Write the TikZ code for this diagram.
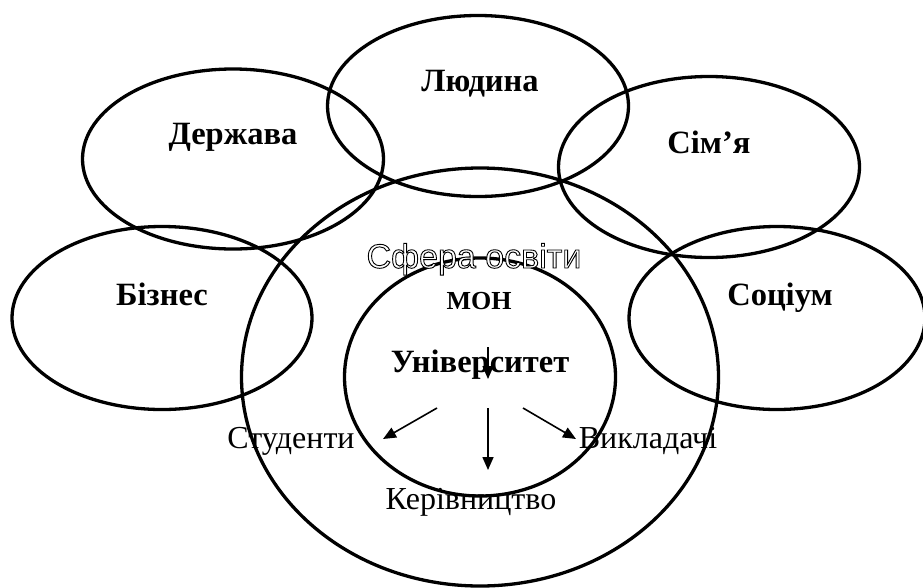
\documentclass[tikz,border=0pt]{standalone}
\usepackage{fontspec}
\setmainfont{Liberation Serif}
\newfontfamily\outlinesans{Liberation Sans}
\usetikzlibrary{shapes.geometric,arrows.meta}
\newcommand\outlinedtxt[1]{\textcolor{white}{\special{pdf:literal direct 2 Tr 0.9 w 0 G}#1\special{pdf:literal direct 0 Tr}}}
\tikzset{
  ring/.style={draw,ellipse,line width=3.3pt,inner sep=0pt},
  boldlbl/.style={anchor=base,inner sep=0pt,font=\fontsize{32.5}{32.5}\selectfont\bfseries},
  plainlbl/.style={anchor=base,inner sep=0pt,font=\fontsize{32}{32}\selectfont},
  sferalbl/.style={anchor=base,inner sep=0pt,font=\fontsize{34}{34}\selectfont\outlinesans},
  flow/.style={line width=1.6pt,-{Triangle[length=13pt,width=11pt]}}
}
\begin{document}
\begin{tikzpicture}[x=1pt,y=-1pt]
\useasboundingbox (0,0) rectangle (923,587);
% ellipses
\node[ring,minimum width=301pt,minimum height=180pt] (derzhava) at (233,159) {};
\node[ring,minimum width=301pt,minimum height=181pt] (liudyna) at (478,106) {};
\node[ring,minimum width=301pt,minimum height=181pt] (simia) at (709,167) {};
\node[ring,minimum width=300pt,minimum height=183pt] (biznes) at (162,318) {};
\node[ring,minimum width=296pt,minimum height=183pt] (sotsium) at (777,318) {};
\node[ring,minimum width=477pt,minimum height=418pt] (sfera) at (480,377) {};
\node[ring,minimum width=271pt,minimum height=238pt] (univ) at (480,377) {};
% labels
\node[boldlbl] (tDerzhava) at (233,144) {Держава};
\node[boldlbl] (tLiudyna) at (480,91) {Людина};
\node[boldlbl] (tSimia) at (709,153) {Сім’я};
\node[boldlbl] (tBiznes) at (162,305) {Бізнес};
\node[boldlbl] (tSotsium) at (780,305) {Соціум};
\node[sferalbl] (tSfera) at (474,268) {\outlinedtxt{Сфера освіти}};
\node[boldlbl,font=\fontsize{26}{26}\selectfont\bfseries] (tMON) at (479,309) {МОН};
\node[boldlbl] (tUniv) at (480,372) {Університет};
\node[plainlbl] (tStudenty) at (291,448) {Студенти};
\node[plainlbl] (tVykladachi) at (648,448) {Викладачі};
\node[plainlbl] (tKerivnytstvo) at (471,509) {Керівництво};
% arrows
\coordinate (a0s) at (488,347);
\coordinate (a0e) at (488,379);
\coordinate (a1s) at (437,408);
\coordinate (a1e) at (383,439);
\coordinate (a2s) at (488,408);
\coordinate (a2e) at (488,470);
\coordinate (a3s) at (523,408);
\coordinate (a3e) at (576,439);
\draw[flow] (a0s) -- (a0e);
\draw[flow] (a1s) -- (a1e);
\draw[flow] (a2s) -- (a2e);
\draw[flow] (a3s) -- (a3e);
\end{tikzpicture}
\end{document}
